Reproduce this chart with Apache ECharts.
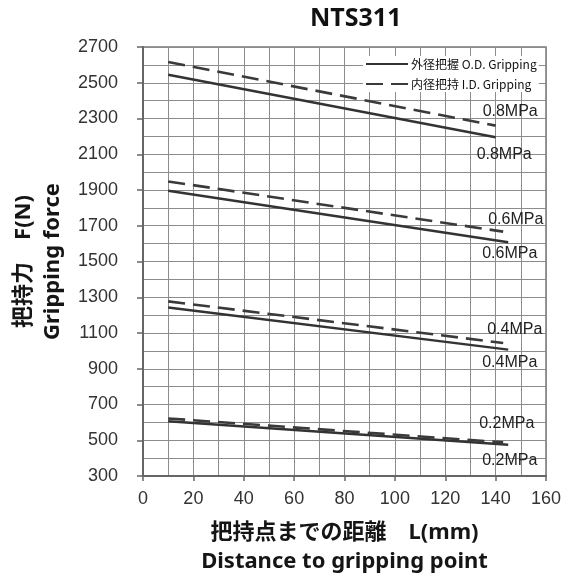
<!DOCTYPE html>
<html><head><meta charset="utf-8">
<script src="https://cdn.jsdelivr.net/npm/echarts@6/dist/echarts.min.js"></script>
<style>html,body{margin:0;padding:0;background:#fff}#c{width:563px;height:575px}</style>
</head><body><div id="c"></div>
<script>
// ---- data ----
const chartTitle = 'NTS311';
const pressureLabels = ['0.8MPa', '0.6MPa', '0.4MPa', '0.2MPa'];
// O.D. gripping (solid lines): distance L (mm) and force F (N)
const odDistances = [[10, 140], [10, 145], [10, 145], [10, 145]];
const odForces = [[2545, 2195], [1896, 1608], [1243, 1007], [606, 475]];
// I.D. gripping (dashed lines)
const idDistances = [[10, 140], [10, 143], [10, 143], [10, 143]];
const idForces = [[2616, 2260], [1948, 1667], [1277, 1044], [622, 488]];
const xTickValues = [0, 20, 40, 60, 80, 100, 120, 140, 160];
const yTickValues = [300, 500, 700, 900, 1100, 1300, 1500, 1700, 1900, 2100, 2300, 2500, 2700];
const odName = '外径把握 O.D. Gripping';
const idName = '内径把持 I.D. Gripping';

// ---- styles (label offsets relative to the line end) ----
const odLabelOffset = [[-19, 17], [-26, 11], [-26, 13], [-26, 16]];
const idLabelOffset = [[-13, -14], [-15, -12], [-16, -13], [-24, -19]];
const gridColor = '#8c8c8c';

function makeSeries(name, dists, forces, offsets, dashed) {
  return pressureLabels.map((p, i) => {
    const pts = dists[i].map((d, k) => [d, forces[i][k]]);
    const endPt = pts[pts.length - 1];
    return {
      name: name,
      type: 'line',
      xAxisIndex: 0,
      yAxisIndex: 0,
      data: pts,
      symbol: 'none',
      silent: true,
      animation: false,
      z: 5,
      lineStyle: dashed
        ? { color: '#3a3a3a', width: 2.6, type: [17, 8] }
        : { color: '#333', width: 2.4, type: 'solid' },
      itemStyle: { color: '#333' },
      markPoint: {
        silent: true,
        animation: false,
        symbol: 'circle',
        symbolSize: 0,
        data: [{ coord: endPt }],
        label: {
          show: true,
          position: 'right',
          distance: 0,
          offset: offsets[i],
          formatter: p,
          fontFamily: 'Liberation Sans',
          fontSize: 16,
          color: '#222'
        }
      }
    };
  });
}

const nameStyle = { fontFamily: 'Noto Sans, Noto Sans CJK JP', fontSize: 22, fontWeight: 'bold', color: '#151515', lineHeight: 29 };

const chart = echarts.init(document.getElementById('c'), null, { renderer: 'canvas' });
chart.setOption({
  backgroundColor: '#fff',
  animation: false,
  title: {
    text: chartTitle,
    left: 310,
    top: 6,
    padding: 0,
    textStyle: { fontFamily: 'Noto Sans', fontWeight: 'bold', fontSize: 25, color: '#111' }
  },
  legend: {
    orient: 'vertical',
    left: 363,
    top: 56,
    padding: [2, 2, 2, 2],
    backgroundColor: '#fff',
    itemWidth: 42,
    itemHeight: 8,
    itemGap: 8,
    data: [odName, idName],
    itemStyle: { opacity: 0 },
    textStyle: { fontFamily: 'Noto Sans CJK JP', fontSize: 12, color: '#111', padding: [0, 0, 0, -2] },
    selectedMode: false,
    z: 10
  },
  grid: {
    left: 143, right: 17, top: 47, bottom: 99,
    outerBoundsMode: 'none',
    containLabel: false,
    show: true, borderColor: '#777', borderWidth: 1.5, backgroundColor: 'transparent'
  },
  xAxis: [{
    type: 'value',
    position: 'bottom',
    min: xTickValues[0],
    max: xTickValues[xTickValues.length - 1],
    interval: 10,
    name: '把持点までの距離　L(mm)\nDistance to gripping point',
    nameLocation: 'middle',
    nameGap: 42,
    nameTextStyle: nameStyle,
    axisLine: { show: true, lineStyle: { color: '#666', width: 2 } },
    axisTick: { show: false },
    axisLabel: { margin: 14, fontFamily: 'Liberation Sans', fontSize: 18, color: '#333', customValues: xTickValues, formatter: (v) => String(v) },
    splitLine: { show: true, lineStyle: { color: gridColor, width: 1 } }
  }, {
    type: 'value',
    position: 'bottom',
    offset: 0,
    min: xTickValues[0],
    max: xTickValues[xTickValues.length - 1],
    interval: 20,
    axisLine: { show: false },
    axisTick: { show: true, inside: false, length: 5, lineStyle: { color: '#666', width: 1.5 } },
    axisLabel: { show: false },
    splitLine: { show: false }
  }],
  yAxis: [{
    type: 'value',
    position: 'left',
    min: yTickValues[0],
    max: yTickValues[yTickValues.length - 1],
    interval: 100,
    name: '把持力　F(N)\nGripping force',
    nameLocation: 'middle',
    nameGap: 76,
    nameTextStyle: nameStyle,
    axisLine: { show: true, lineStyle: { color: '#666', width: 2 } },
    axisTick: { show: false },
    axisLabel: { margin: 25, fontFamily: 'Liberation Sans', fontSize: 18, color: '#333', customValues: yTickValues, formatter: (v) => String(v) },
    splitLine: { show: true, lineStyle: { color: gridColor, width: 1 } }
  }, {
    type: 'value',
    position: 'left',
    offset: 0,
    min: yTickValues[0],
    max: yTickValues[yTickValues.length - 1],
    interval: 200,
    axisLine: { show: false },
    axisTick: { show: true, inside: false, length: 6, customValues: yTickValues, lineStyle: { color: '#666', width: 1.5 } },
    axisLabel: { show: false },
    splitLine: { show: false }
  }],
  series: [].concat(
    makeSeries(odName, odDistances, odForces, odLabelOffset, false),
    makeSeries(idName, idDistances, idForces, idLabelOffset, true)
  )
});
</script>
</body></html>
